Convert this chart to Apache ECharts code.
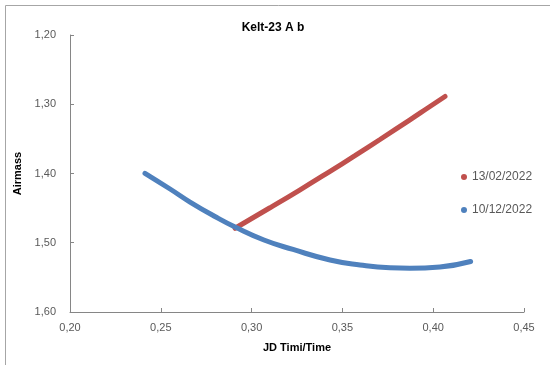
<!DOCTYPE html>
<html>
<head>
<meta charset="utf-8">
<script src="https://cdn.jsdelivr.net/npm/echarts@6/dist/echarts.min.js"></script>
<style>html,body{margin:0;padding:0;background:#fff}#c{width:550px;height:365px}</style>
</head>
<body>
<div id="c"></div>
<script>
var titleText = "Kelt-23 A b";
var xName = "JD Timi/Time";
var yName = "Airmass";
var seriesNames = ["13/02/2022", "10/12/2022"];

var redX = [0.2909, 0.3101, 0.3267, 0.3432, 0.3569, 0.3707, 0.3872, 0.3982, 0.4065];
var redY = [1.4791, 1.4495, 1.4235, 1.3968, 1.3742, 1.3509, 1.3225, 1.3032, 1.2888];

var blueX = [0.2413, 0.2551, 0.2661, 0.2798, 0.2909, 0.3068, 0.3228, 0.3432, 0.3597, 0.3762, 0.3872, 0.4037, 0.4206];
var blueY = [1.3997, 1.4224, 1.4412, 1.4621, 1.4773, 1.4960, 1.5097, 1.5249, 1.5321, 1.5362, 1.5368, 1.5350, 1.5271];

function pairs(xs, ys) { return xs.map(function (x, i) { return [x, ys[i]]; }); }
function fmt(v) { return v.toFixed(2).replace('.', ','); }

var chart = echarts.init(document.getElementById('c'), null, { renderer: 'canvas' });
var axisColor = '#868686';
var labelColor = '#595959';
var font = 'Liberation Sans';
chart.setOption({
  animation: false,
  backgroundColor: '#fff',
  title: {
    text: titleText, left: 268, top: 17, textAlign: 'center',
    textStyle: { fontFamily: font, fontSize: 12, fontWeight: 'bold', color: '#000' }
  },
  graphic: [{
    type: 'rect', shape: { x: 5.5, y: 5.5, width: 600, height: 400 },
    style: { fill: 'none', stroke: '#a6a6a6', lineWidth: 1 }, silent: true
  }],
  legend: {
    orient: 'vertical', left: 456, top: 166, itemGap: 21,
    icon: 'circle', itemWidth: 6, itemHeight: 6,
    textStyle: { fontFamily: font, fontSize: 12, color: labelColor },
    data: seriesNames
  },
  grid: { left: 70, right: 26, top: 35, bottom: 53 },
  xAxis: {
    type: 'value', min: 0.2, max: 0.45, interval: 0.05,
    name: xName, nameLocation: 'middle', nameGap: 30,
    nameTextStyle: { fontFamily: font, fontSize: 11, fontWeight: 'bold', color: '#000' },
    axisLine: { show: true, lineStyle: { color: axisColor } },
    axisTick: { show: true, inside: true, length: 4, lineStyle: { color: axisColor } },
    axisLabel: { formatter: fmt, margin: 10, fontFamily: font, fontSize: 11, color: labelColor },
    splitLine: { show: false }
  },
  yAxis: {
    type: 'value', inverse: true, min: 1.2, max: 1.6, interval: 0.1,
    name: yName, nameLocation: 'middle', nameGap: 40, nameRotate: 90,
    nameTextStyle: { fontFamily: font, fontSize: 11, fontWeight: 'bold', color: '#000' },
    axisLine: { show: true, lineStyle: { color: axisColor } },
    axisTick: { show: true, inside: true, length: 4, lineStyle: { color: axisColor } },
    axisLabel: { formatter: fmt, margin: 14, fontFamily: font, fontSize: 11, color: labelColor },
    splitLine: { show: false }
  },
  series: [
    {
      name: seriesNames[0], type: 'line', data: pairs(redX, redY), smooth: 0.5,
      showSymbol: false, symbol: 'circle', color: '#C0504D',
      lineStyle: { width: 5, color: '#C0504D', cap: 'round' }
    },
    {
      name: seriesNames[1], type: 'line', data: pairs(blueX, blueY), smooth: 0.5,
      showSymbol: false, symbol: 'circle', color: '#4F81BD',
      lineStyle: { width: 5, color: '#4F81BD', cap: 'round' }
    }
  ]
});
</script>
</body>
</html>
